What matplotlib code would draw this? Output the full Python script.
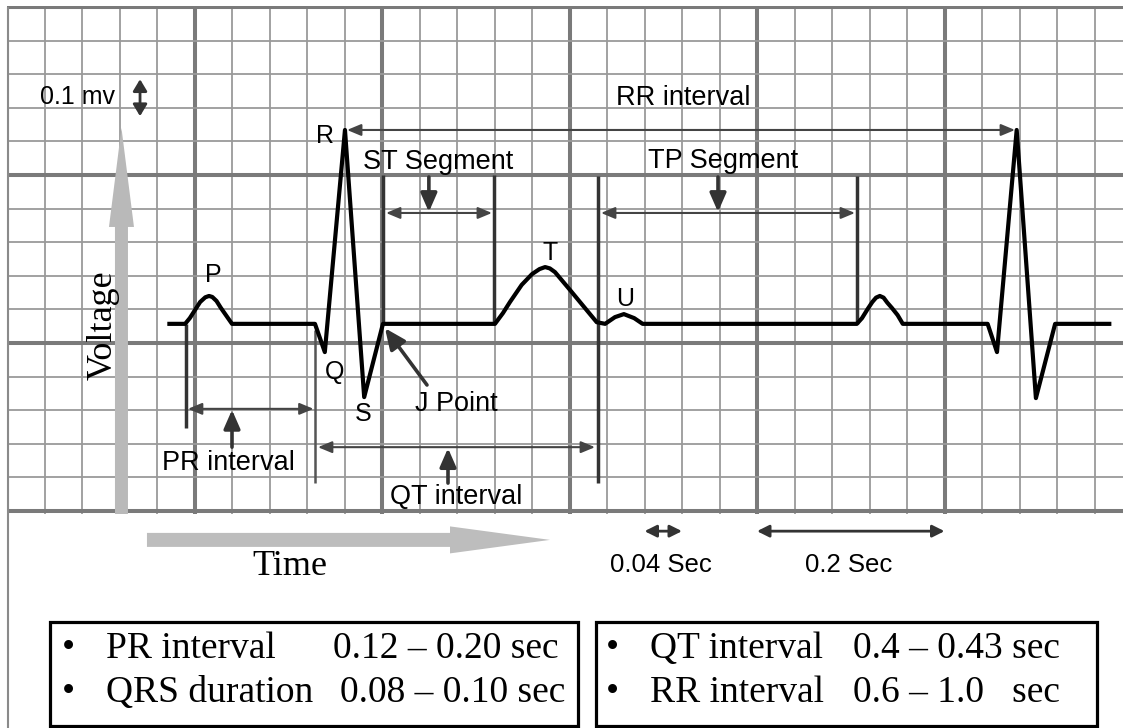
import numpy as np
import matplotlib
matplotlib.use("Agg")
import matplotlib.pyplot as plt
from matplotlib.patches import FancyArrow, Rectangle
from matplotlib.lines import Line2D

# ---------------- data (time in s, voltage in mV) ----------------
ecg_t = [0.171, 0.190, 0.195, 0.2005, 0.206, 0.2115, 0.2155, 0.219, 0.2235, 0.228, 0.2335, 0.240,
         0.3285, 0.339, 0.3605, 0.381, 0.401,
         0.5205, 0.529, 0.5365, 0.549, 0.560, 0.568, 0.574, 0.579, 0.5845, 0.6005, 0.6165, 0.629,
         0.638, 0.6485, 0.658, 0.669, 0.678,
         0.9065, 0.912, 0.918, 0.923, 0.927, 0.931, 0.935, 0.939, 0.944, 0.950, 0.9555,
         1.046, 1.056, 1.077, 1.0975, 1.118, 1.178]
ecg_mv = [0.057, 0.057, 0.074, 0.098, 0.122, 0.136, 0.140, 0.137, 0.125, 0.105, 0.083, 0.057,
          0.057, -0.027, 0.634, -0.161, 0.057,
          0.057, 0.089, 0.122, 0.173, 0.205, 0.220, 0.226, 0.222, 0.211, 0.158, 0.104, 0.062,
          0.057, 0.077, 0.086, 0.074, 0.057,
          0.057, 0.074, 0.101, 0.122, 0.135, 0.140, 0.135, 0.120, 0.104, 0.083, 0.057,
          0.057, -0.027, 0.634, -0.164, 0.057, 0.057]

wave_labels = ["P", "Q", "R", "S", "T", "U"]
wave_label_t = [0.2197, 0.3499, 0.3392, 0.3797, 0.579, 0.659]
wave_label_mv = [0.202, -0.086, 0.616, -0.211, 0.268, 0.131]

# vertical marker bars: time, top mV, bottom mV
marker_t = [0.191, 0.401, 0.5195, 0.6304, 0.9067]
marker_top = [0.057, 0.500, 0.500, 0.497, 0.497]
marker_bot = [-0.253, 0.057, 0.057, -0.417, 0.057]
qrs_marker_t = 0.3285
qrs_marker_top, qrs_marker_bot = 0.039, -0.417

# interval double arrows: name, start, end, level (mV)
interval_names = ["PR interval", "QT interval", "ST Segment", "TP Segment", "RR interval"]
interval_start = [0.193, 0.3317, 0.4043, 0.6336, 0.3627]
interval_end = [0.327, 0.6272, 0.5173, 0.9045, 1.0752]
interval_level = [-0.196, -0.310, 0.387, 0.387, 0.634]
# pointer arrows: time, from mV, to mV
pointer_t = [0.240, 0.4704, 0.450, 0.7584]
pointer_from = [-0.310, -0.417, 0.494, 0.494]
pointer_to = [-0.199, -0.313, 0.390, 0.390]
# labels for the intervals: time, mV
interval_label_t = [0.2357, 0.479, 0.4603, 0.7637, 0.721]
interval_label_mv = [-0.357, -0.458, 0.539, 0.542, 0.729]

# scale bars below the grid
scale_names = ["0.04 Sec", "0.2 Sec"]
scale_start = [0.68, 0.80]
scale_end = [0.72, 1.00]

box1_rows = [("PR interval", "0.12 \u2013 0.20 sec"), ("QRS duration", "0.08 \u2013 0.10 sec")]
box2_rows = [("QT interval", "0.4 \u2013 0.43 sec"), ("RR interval", "0.6 \u2013 1.0   sec")]

# ---------------- figure ----------------
W, H = 1123, 728
fig = plt.figure(figsize=(W / 100, H / 100), dpi=100)
fig.patch.set_facecolor("white")

X0, PXS = 7.0, 937.5     # px of t=0, px per second
Y0, PXV = 343.0, 336.0   # px of 0 mV, px per mV
top_px, bot_px = 6.0, 514.0
ax = fig.add_axes([X0 / W, (H - bot_px) / H, (W - X0) / W, (bot_px - top_px) / H])

ax.set_xticks(np.round(np.arange(0, 1.19, 0.2), 3))
ax.set_xticks(np.round(np.arange(0, 1.19, 0.04), 3), minor=True)
ax.set_yticks(np.round(np.arange(-0.5, 1.01, 0.5), 3))
ax.set_yticks(np.round(np.arange(-0.5, 1.01, 0.1), 3), minor=True)
ax.set_xlim(0, (W - X0) / PXS)
ax.set_ylim((Y0 - bot_px) / PXV, (Y0 - top_px) / PXV)
ax.grid(which="minor", color="#9a9a9a", lw=1.3)
ax.grid(which="major", color="#7a7a7a", lw=2.9)
ax.set_axisbelow(True)
ax.tick_params(which="both", length=0, labelbottom=False, labelleft=False)
for s in ax.spines.values():
    s.set_visible(False)

SANS = ["Liberation Sans", "DejaVu Sans"]
SERIF = ["Liberation Serif", "DejaVu Serif"]
dark = "#333333"

ymin = ax.get_ylim()[0]
# big gray axis arrows
va = FancyArrow(0.1221, ymin, 0, 0.640 - ymin, width=13 / PXS,
                head_width=25 / PXS, head_length=99 / PXV, length_includes_head=True,
                color="#b9b9b9", lw=0, zorder=3)
ax.add_patch(va)
ha_ = FancyArrow(0.1493, -0.586, 0.4299, 0, width=14 / PXV, head_width=27 / PXV,
                 head_length=100 / PXS, length_includes_head=True, color="#bdbdbd", lw=0,
                 zorder=3)
ha_.set_clip_on(False)
ax.add_patch(ha_)

# marker bars
for t, a, b in zip(marker_t, marker_top, marker_bot):
    ax.plot([t, t], [a, b], color=dark, lw=2.5, solid_capstyle="butt", zorder=4)
ax.plot([qrs_marker_t] * 2, [qrs_marker_top, qrs_marker_bot], color="#555555", lw=1.8,
        solid_capstyle="butt", zorder=4)

# interval arrows
for t0, t1, v in zip(interval_start, interval_end, interval_level):
    ax.annotate("", xy=(t1, v), xytext=(t0, v),
                arrowprops=dict(arrowstyle="<|-|>,head_length=0.6,head_width=0.25",
                                color="#444444", lw=1.5, shrinkA=0, shrinkB=0,
                                mutation_scale=14), zorder=4)
for t, a, b in zip(pointer_t, pointer_from, pointer_to):
    ax.annotate("", xy=(t, b), xytext=(t, a),
                arrowprops=dict(arrowstyle="-|>,head_length=0.8,head_width=0.35",
                                color=dark, lw=2.6, shrinkA=0, shrinkB=0,
                                mutation_scale=14), zorder=4)
# J point pointer
ax.annotate("", xy=(0.4032, 0.044), xytext=(0.448, -0.125),
            arrowprops=dict(arrowstyle="-|>,head_length=0.9,head_width=0.4",
                            color=dark, lw=2.6, shrinkA=0, shrinkB=0, mutation_scale=14),
            zorder=4)
# 0.1 mV scale arrow
ax.annotate("", xy=(0.1419, 0.785), xytext=(0.1419, 0.675),
            arrowprops=dict(arrowstyle="<|-|>,head_length=0.5,head_width=0.3",
                            color=dark, lw=2.0, shrinkA=0, shrinkB=0, mutation_scale=14),
            zorder=4)

# ECG trace
ax.plot(ecg_t, ecg_mv, color="black", lw=3.0, solid_joinstyle="round",
        solid_capstyle="butt", zorder=5)

# labels
for s, t, v in zip(wave_labels, wave_label_t, wave_label_mv):
    ax.text(t, v, s, ha="center", va="center", fontsize=18, family=SANS, zorder=6)
for s, t, v in zip(interval_names, interval_label_t, interval_label_mv):
    ax.text(t, v, s, ha="center", va="center", fontsize=19.5, family=SANS, zorder=6)
ax.text(0.479, -0.182, "J Point", ha="center", va="center", fontsize=19.5, family=SANS,
        zorder=6)
ax.text(0.0757, 0.732, "0.1 mv", ha="center", va="center", fontsize=18, family=SANS,
        zorder=6)
ax.text(0.1024, 0.0536, "Voltage", rotation=90, ha="center", va="center", fontsize=26,
        family=SERIF, zorder=6)
ax.text(0.3019, -0.665, "Time", ha="center", va="center", fontsize=26, family=SERIF,
        clip_on=False)

# scale bars
for s, t0, t1 in zip(scale_names, scale_start, scale_end):
    ax.annotate("", xy=(t1, -0.560), xytext=(t0, -0.560),
                arrowprops=dict(arrowstyle="<|-|>,head_length=0.6,head_width=0.3",
                                color=dark, lw=2.0, shrinkA=0, shrinkB=0,
                                mutation_scale=12), annotation_clip=False)
    ax.text((t0 + t1) / 2 - 0.002, -0.660, s, ha="center", va="center", fontsize=18.5,
            family=SANS, clip_on=False)

# left page border
fig.add_artist(Line2D([7.5 / W, 7.5 / W], [0, 1 - 8 / H], transform=fig.transFigure,
                      color="#8a8a8a", lw=1.5))

# boxes
def fx(px):
    return px / W

def fy(py):
    return 1 - py / H

for x0, x1 in [(50, 578), (596, 1097)]:
    fig.add_artist(Rectangle((fx(x0), fy(726)), (x1 - x0) / W, (726 - 622) / H,
                             transform=fig.transFigure, fill=False, ec="black", lw=2.3))

rows_y = [658, 702]
for (name, val), y in zip(box1_rows, rows_y):
    fig.text(fx(68), fy(y), "\u2022", ha="center", va="baseline", fontsize=27, family=SERIF)
    fig.text(fx(106), fy(y), name, ha="left", va="baseline", fontsize=27, family=SERIF)
for (name, val), y, xv in zip(box1_rows, rows_y, [333, 340]):
    fig.text(fx(xv), fy(y), val, ha="left", va="baseline", fontsize=27, family=SERIF)
for (name, val), y in zip(box2_rows, rows_y):
    fig.text(fx(612), fy(y), "\u2022", ha="center", va="baseline", fontsize=27, family=SERIF)
    fig.text(fx(650), fy(y), name, ha="left", va="baseline", fontsize=27, family=SERIF)
    fig.text(fx(853), fy(y), val, ha="left", va="baseline", fontsize=27, family=SERIF)

fig.savefig("out.png", dpi=100, facecolor="white")
